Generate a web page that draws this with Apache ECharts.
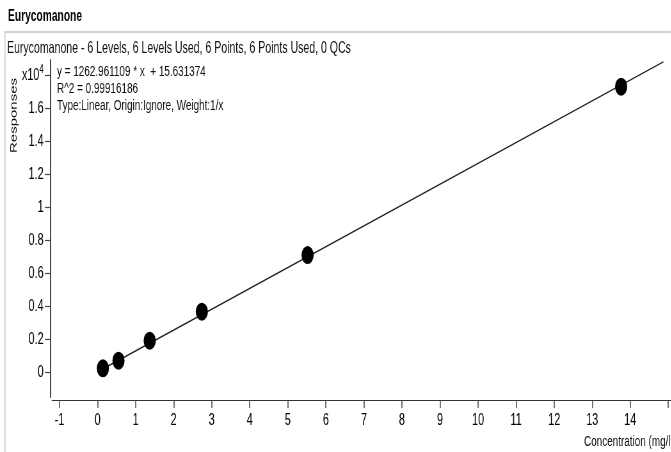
<!DOCTYPE html>
<html>
<head>
<meta charset="utf-8">
<title>Eurycomanone calibration</title>
<script src="https://cdn.jsdelivr.net/npm/echarts@6/dist/echarts.min.js"></script>
<style>
  html, body { margin: 0; padding: 0; background: #fff; overflow: hidden; width: 671px; height: 452px; }
  /* The chart is laid out wider and compressed horizontally for a condensed look */
  #chart { width: 1049px; height: 452px; transform: scaleX(0.64); transform-origin: 0 0; }
</style>
</head>
<body>
<div id="chart"></div>
<script>
// Calibration levels: concentration (mg/l) and instrument response
const concentrations = [0.14, 0.55, 1.37, 2.74, 5.52, 13.76];
const responses = [224, 685, 1897, 3655, 7090, 17290];

// Weighted linear fit reported for the curve
const slope = 1262.961109;
const intercept = 15.631374;
const fitRange = [0, 14.87];

// Axis ticks
const xTicks = [-1, 0, 1, 2, 3, 4, 5, 6, 7, 8, 9, 10, 11, 12, 13, 14, 15];
const xLabels = [-1, 0, 1, 2, 3, 4, 5, 6, 7, 8, 9, 10, 11, 12, 13, 14];
const yTicks = [0, 2000, 4000, 6000, 8000, 10000, 12000, 14000, 16000, 18000];
const yScale = 10000;

const SX = 0.64;            // horizontal compression applied to the container
const px = v => v / SX;     // convert a displayed x position into layout units

const FONT = '"Liberation Sans", Arial, sans-serif';
const INK = '#111';

const fitLine = fitRange.map(x => [x, slope * x + intercept]);
const points = concentrations.map((c, i) => [c, responses[i]]);

const chart = echarts.init(document.getElementById('chart'), null, { renderer: 'canvas' });

chart.setOption({
  animation: false,
  backgroundColor: '#fff',
  grid: { left: px(52), right: 0, top: 60, bottom: 55, containLabel: false },
  xAxis: {
    type: 'value',
    min: -1.197,
    max: 15.08,
    offset: 3,
    axisLine: { show: true, onZero: false, lineStyle: { color: '#333', width: 1.2 } },
    axisTick: { show: true, length: 8, customValues: xTicks, lineStyle: { color: '#444', width: 1.5 } },
    axisLabel: {
      customValues: xLabels,
      margin: 12,
      color: '#000',
      fontFamily: FONT,
      fontSize: 17
    },
    splitLine: { show: false }
  },
  yAxis: {
    type: 'value',
    min: -1515,
    max: 18910,
    offset: 3,
    axisLine: { show: true, onZero: false, lineStyle: { color: '#333', width: 1.8 } },
    axisTick: { show: true, length: 8, customValues: yTicks, lineStyle: { color: '#444', width: 1.2 } },
    axisLabel: {
      customValues: yTicks,
      margin: 10,
      color: '#000',
      fontFamily: FONT,
      fontSize: 17,
      formatter: v => (v === 18000 ? 'x10{sup|4}' : String(v / yScale)),
      rich: {
        sup: { fontFamily: FONT, fontSize: 12, color: '#000', verticalAlign: 'top', padding: [0, 0, 10, 0] }
      }
    },
    splitLine: { show: false }
  },
  graphic: [
    {
      type: 'polyline',
      silent: true,
      shape: { points: [[px(5), 452], [px(5), 32], [px(671), 32]] },
      style: { stroke: '#c4c4c4', lineWidth: 1.4, fill: null }
    },
    {
      type: 'text', x: px(8), y: 9,
      style: { text: 'Eurycomanone', font: 'bold 16px ' + FONT, fill: '#000' }
    },
    {
      type: 'text', left: px(7), top: 40,
      style: { text: 'Eurycomanone - 6 Levels, 6 Levels Used, 6 Points, 6 Points Used, 0 QCs', font: '16.5px ' + FONT, fill: INK }
    },
    {
      type: 'text', left: px(57), top: 63,
      style: {
        text: 'y = 1262.961109 * x  + 15.631374\nR^2 = 0.99916186\nType:Linear, Origin:Ignore, Weight:1/x',
        font: '15.5px ' + FONT, fill: INK, lineHeight: 17
      }
    },
    {
      type: 'text', x: px(9), y: 153, rotation: Math.PI / 2,
      style: { text: 'Responses', font: '15px ' + FONT, fill: INK, align: 'left', verticalAlign: 'top' }
    },
    {
      type: 'text', left: px(584), top: 434,
      style: { text: 'Concentration (mg/l)', font: '15.5px ' + FONT, fill: INK }
    }
  ],
  series: [
    {
      type: 'line',
      data: fitLine,
      showSymbol: false,
      symbol: 'none',
      lineStyle: { color: '#222', width: 1.5 },
      z: 2,
      silent: true
    },
    {
      type: 'scatter',
      data: points,
      symbol: 'circle',
      symbolSize: [19, 18],
      itemStyle: { color: '#000', opacity: 1 },
      z: 3
    }
  ]
});
</script>
</body>
</html>
